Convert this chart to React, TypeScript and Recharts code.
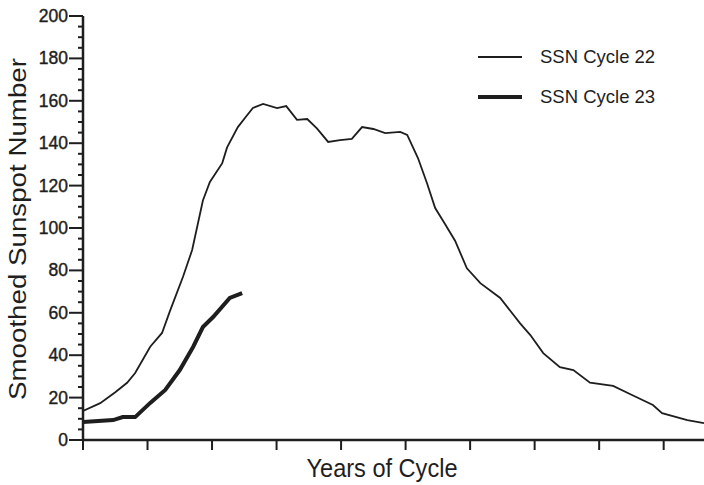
import { LineChart, Line, XAxis, YAxis, Legend, Label } from "recharts";

// months since cycle minimum, smoothed sunspot number
const months22 = [0, 3.2, 6, 8.2, 9.7, 12.5, 14.7, 16.2, 18.6, 20.3, 22.3, 23.6, 25.9, 26.8, 28.8, 30.3, 31.6, 33.5, 36.1, 37.8, 39.8, 41.7, 43.5, 45.6, 47.8, 50, 51.9, 54, 56.2, 59, 60.3, 62.3, 64, 65.5, 67.3, 69.2, 71.4, 73.9, 77.6, 81.3, 83.2, 85.6, 88.7, 91.2, 94.3, 98.6, 102.3, 106, 107.7, 112.4, 115.5];
const ssn22 = [13.7, 17.4, 22.5, 27, 31.6, 44, 50.5, 61, 77, 89.6, 113, 121.7, 130.6, 138, 147.6, 152.5, 156.6, 158.5, 156.6, 157.5, 151, 151.4, 147, 140.6, 141.5, 142, 147.6, 146.7, 144.8, 145.3, 143.9, 133, 121, 109.4, 102, 94, 81, 74, 67, 55, 49.5, 41, 34.4, 33, 27, 25.5, 21, 16.5, 12.7, 9.4, 8];

const months23 = [0, 5.6, 7.4, 9.7, 12.5, 15.3, 18, 20.5, 22.3, 24.2, 27.3, 29.6];
const ssn23 = [8.5, 9.4, 10.8, 10.8, 17.5, 23.6, 33, 44, 53.3, 58, 67, 69.3];

const yTicks = Array.from({ length: 41 }, (_, i) => i * 5);
const xTicks = [0, 12, 24, 36, 48, 60, 72, 84, 96, 108];

const legendItems = [
  { label: "SSN Cycle 22", width: 1.8 },
  { label: "SSN Cycle 23", width: 4 },
];

const data22 = months22.map((m, i) => ({ m, ssn: ssn22[i] }));
const data23 = months23.map((m, i) => ({ m, ssn: ssn23[i] }));

const ink = "#1e1e1e";
const font = "'Liberation Sans', Arial, Helvetica, sans-serif";

function YTick({ x, y, payload }: any) {
  const major = payload.value % 20 === 0;
  return (
    <g>
      <line x1={x - (major ? 14 : 5)} x2={x} y1={y} y2={y} stroke={ink} strokeWidth={2} />
      {major && (
        <text x={x - 15} y={y} textAnchor="end" dominantBaseline="central" fontSize={17.5} fill={ink} stroke={ink} strokeWidth={0.4} fontFamily={font}>
          {payload.value}
        </text>
      )}
    </g>
  );
}

function XTick({ x, y }: any) {
  return <line x1={x} x2={x} y1={y} y2={y + 10} stroke={ink} strokeWidth={2} />;
}

function LegendBox() {
  return (
    <div style={{ fontFamily: font }}>
      {legendItems.map((it) => (
        <div key={it.label} style={{ display: "flex", alignItems: "center", height: 40 }}>
          <svg width={44} height={10} style={{ marginRight: 18 }}>
            <line x1={0} x2={44} y1={5} y2={5} stroke={ink} strokeWidth={it.width} />
          </svg>
          <span style={{ fontSize: 18.5, color: ink }}>{it.label}</span>
        </div>
      ))}
    </div>
  );
}

export default function App() {
  return (
    <div style={{ position: "absolute", left: 0, top: 0, background: "#fff" }}>
      <LineChart width={704} height={485} margin={{ top: 16, right: 0, left: 0, bottom: 0 }}>
        <XAxis
          type="number"
          dataKey="m"
          domain={[0, 115.5]}
          ticks={xTicks}
          allowDataOverflow
          height={45}
          tickSize={0}
          tickMargin={0}
          tick={<XTick />}
          axisLine={{ stroke: ink, strokeWidth: 2.5 }}
        >
          <Label
            content={() => (
              <text x={382} y={477} textAnchor="middle" fontSize={26} textLength={151} lengthAdjust="spacingAndGlyphs" fill={ink} fontFamily={font}>
                Years of Cycle
              </text>
            )}
          />
        </XAxis>
        <YAxis
          type="number"
          domain={[0, 200]}
          ticks={yTicks}
          interval={0}
          width={83}
          tickSize={0}
          tickMargin={0}
          tick={<YTick />}
          axisLine={{ stroke: ink, strokeWidth: 2.5 }}
        >
          <Label
            content={() => (
              <text x={26} y={229} transform="rotate(-90, 26, 229)" textAnchor="middle" fontSize={23} textLength={342} lengthAdjust="spacingAndGlyphs" fill={ink} fontFamily={font}>
                Smoothed Sunspot Number
              </text>
            )}
          />
        </YAxis>
        <Legend
          content={<LegendBox />}
          wrapperStyle={{ position: "absolute", left: 478, top: 37, width: 220, height: 0, overflow: "visible" }}
        />
        <Line data={data22} dataKey="ssn" name="SSN Cycle 22" type="linear" stroke={ink} strokeWidth={1.8} dot={false} isAnimationActive={false} />
        <Line data={data23} dataKey="ssn" name="SSN Cycle 23" type="linear" stroke={ink} strokeWidth={4} dot={false} isAnimationActive={false} />
      </LineChart>
    </div>
  );
}
